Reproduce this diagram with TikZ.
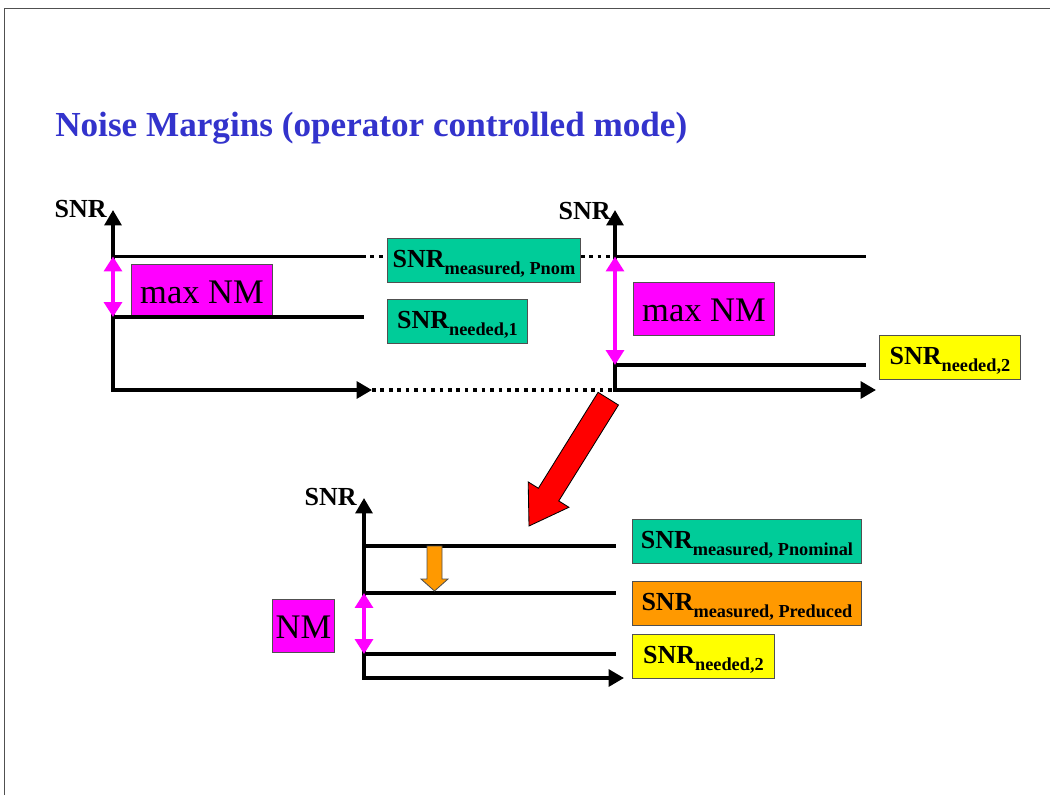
\documentclass[tikz,border=0pt]{standalone}
\usepackage{fontspec}
\setmainfont{Liberation Serif}
\usetikzlibrary{arrows.meta,calc,positioning}
\definecolor{nmgreen}{RGB}{0,204,153}
\definecolor{nmorange}{RGB}{255,153,0}
\definecolor{nmyellow}{RGB}{255,255,0}
\definecolor{nmmagenta}{RGB}{255,0,255}
\definecolor{titleblue}{RGB}{51,51,204}
\definecolor{boxedge}{RGB}{80,80,80}
\tikzstyle{axes}    = [draw, line width=2.6pt, {Triangle[length=11pt,width=12pt]}-{Triangle[length=11pt,width=12pt]}]
\tikzstyle{level}   = [draw, line width=2.6pt]
\tikzstyle{dotline} = [draw, line width=2.6pt, dash pattern=on 2.6pt off 3.4pt]
\tikzstyle{margin}  = [draw, nmmagenta, line width=2.8pt,
                       {Triangle[length=10.5pt,width=12.5pt]}-{Triangle[length=10.5pt,width=12.5pt]}]
\tikzstyle{lbl}     = [rectangle, draw=boxedge, line width=0.6pt, inner sep=0pt, anchor=north west]
\tikzstyle{nmbox}   = [lbl, fill=nmmagenta, text height=27.5pt, text depth=10pt,
                       font=\fontsize{24.5}{28}\selectfont]
\tikzstyle{snrbox}  = [lbl, text height=21pt, text depth=10pt,
                       font=\fontsize{18.5}{20}\selectfont\bfseries]
\tikzstyle{axlabel} = [anchor=base east, inner sep=0pt, font=\fontsize{18.5}{20}\selectfont\bfseries]
\tikzstyle{title}   = [anchor=base west, inner sep=0pt, text=titleblue,
                       font=\fontsize{25}{28}\selectfont\bfseries]
\newcommand{\snr}[1]{SNR{\fontsize{13}{14}\selectfont\raisebox{-4.5pt}{#1}}}

\begin{document}
\begin{tikzpicture}[x=0.025cm, y=-0.025cm]
		\useasboundingbox (0,0) rectangle (1050,795);
		\draw[boxedge, line width=0.6pt] (4,795) -- (4,8) -- (1050,8);

		\node[title] (head) at (55,136) {Noise Margins (operator controlled mode)};

		% first plot
		\coordinate (o1) at (113,390);
		\coordinate (y1) at (113,210);
		\coordinate (x1) at (372,390);
		\coordinate (t1) at (113,256.5);
		\coordinate (t1e) at (362,256.5);
		\coordinate (n1) at (113,317);
		\coordinate (n1e) at (364,317);
		\node[axlabel] (s1) at (107,217) {SNR};
		\node[nmbox, minimum width=141*0.025cm] (nm1) at (131,264) {max NM};
		\node[snrbox, fill=nmgreen, minimum width=193*0.025cm] (gm1) at (387,238) {\snr{measured, Pnom}};
		\node[snrbox, fill=nmgreen, minimum width=140*0.025cm] (gn1) at (387,299) {\snr{needed,1}};

		% second plot
		\coordinate (o2) at (615,390);
		\coordinate (y2) at (615,210);
		\coordinate (x2) at (876,390);
		\coordinate (t2) at (615,256.5);
		\coordinate (t2e) at (866,256.5);
		\coordinate (n2) at (615,365);
		\coordinate (n2e) at (866,365);
		\node[axlabel] (s2) at (611,219) {SNR};
		\node[nmbox, minimum width=141*0.025cm] (nm2) at (633,282) {max NM};
		\node[snrbox, fill=nmyellow, minimum width=141*0.025cm] (yn2) at (879,335) {\snr{needed,2}};

		% third plot
		\coordinate (o3) at (364,678);
		\coordinate (y3) at (364,498);
		\coordinate (x3) at (624,678);
		\coordinate (p3) at (364,546);
		\coordinate (p3e) at (616,546);
		\coordinate (r3) at (364,593);
		\coordinate (r3e) at (616,593);
		\coordinate (n3) at (364,654);
		\coordinate (n3e) at (616,654);
		\node[axlabel] (s3) at (357,505) {SNR};
		\node[nmbox, minimum width=62*0.025cm] (nm3) at (272,599) {NM};
		\node[snrbox, fill=nmgreen, minimum width=229*0.025cm] (gm3) at (632,519) {\snr{measured, Pnominal}};
		\node[snrbox, fill=nmorange, minimum width=229*0.025cm] (om3) at (632,581) {\snr{measured, Preduced}};
		\node[snrbox, fill=nmyellow, minimum width=142*0.025cm] (yn3) at (632,634) {\snr{needed,2}};

		\draw[axes] (y1) -- (o1) -- (x1);
		\draw[level] (t1) -- (t1e);
		\draw[level] (n1) -- (n1e);
		\draw[dotline] (t1e) -- (t1e -| gm1.west);
		\draw[dotline] (gm1.east |- t1e) -- (t2);
		\draw[dotline] (x1) -- (o2);
		\draw[margin] (t1) -- (n1);

		\draw[axes] (y2) -- (o2) -- (x2);
		\draw[level] (t2) -- (t2e);
		\draw[level] (n2) -- (n2e);
		\draw[margin] (t2) -- (n2);

		\draw[axes] (y3) -- (o3) -- (x3);
		\draw[level] (p3) -- (p3e);
		\draw[level] (r3) -- (r3e);
		\draw[level] (n3) -- (n3e);
		\draw[margin] (r3) -- (n3);

		% power reduction
		\filldraw[fill=nmorange, draw=boxedge, line width=0.6pt] (427,546) -- (442,546) -- (442,579)
			-- (448,579) -- (434.5,591) -- (421,579) -- (427,579) -- cycle;

		% big red arrow
		\begin{scope}[shift={(529,526)}, rotate=58.1]
			\filldraw[fill=red, draw=black, line width=0.6pt] (0,0) -- (37,24) -- (37,12) -- (150,12)
				-- (150,-12) -- (37,-12) -- (37,-24) -- cycle;
		\end{scope}
	\end{tikzpicture}
\end{document}
